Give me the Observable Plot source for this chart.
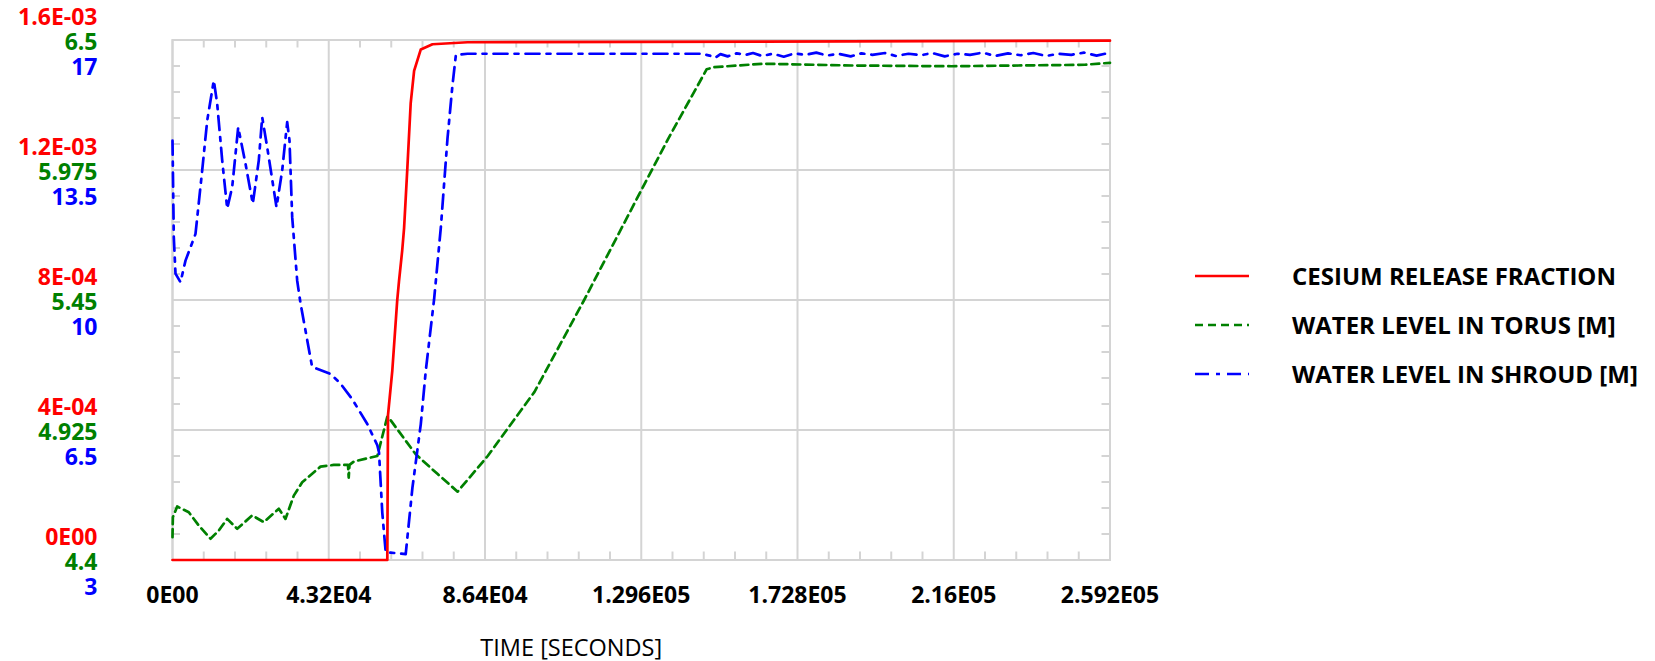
<!DOCTYPE html>
<html><head><meta charset="utf-8">
<script src="https://cdn.jsdelivr.net/npm/d3@7"></script>
<script src="https://cdn.jsdelivr.net/npm/@observablehq/plot@0.6"></script>
<style>
body{margin:0;background:#fff;font-family:"Open Sans",sans-serif;}
#wrap{position:relative;width:1655px;height:661px;}
#legend{position:absolute;left:1195px;top:251px;}
.row{display:flex;align-items:center;height:49px;}
.row svg{width:54px;height:6px;margin-right:43px;flex:none;}
.row span{font-weight:700;font-size:24px;color:#000;white-space:nowrap;}
</style></head><body><div id="wrap"><div id="legend"></div></div>
<script>
// Time axis (seconds)
const xTickValues = [0, 43200, 86400, 129600, 172800, 216000, 259200];
const xTickLabels = ["0E00", "4.32E04", "8.64E04", "1.296E05", "1.728E05", "2.16E05", "2.592E05"];
// Left axis tick labels (three stacked scales)
const redTickLabels = ["0E00", "4E-04", "8E-04", "1.2E-03", "1.6E-03"];
const greenTickLabels = ["4.4", "4.925", "5.45", "5.975", "6.5"];
const blueTickLabels = ["3", "6.5", "10", "13.5", "17"];
const redDomain = [0, 1.6e-3];
const greenDomain = [4.4, 6.5];
const blueDomain = [3, 17];

const seriesNames = ["CESIUM RELEASE FRACTION", "WATER LEVEL IN TORUS [M]", "WATER LEVEL IN SHROUD [M]"];

// CESIUM RELEASE FRACTION
const redT = [0, 59389, 59583, 60772, 62124, 62624, 63507, 64034, 64946, 65859, 66799, 68650, 71885, 81562, 259200];
const redV = [0, 0, 4.46e-4, 5.83e-4, 7.98e-4, 8.58e-4, 9.52e-4, 1.022e-3, 1.209e-3, 1.406e-3, 1.505e-3, 1.571e-3, 1.587e-3, 1.593e-3, 1.598e-3];

// WATER LEVEL IN TORUS [M]
const greenT = [0, 100, 1300, 4507, 7271, 10506, 12801, 15124, 17888, 22035, 25243, 29390, 31242, 33537, 35859, 40919, 44596, 48524, 48717, 48937, 50154, 56624, 59389, 60329, 67241, 73241, 78826, 87148, 100086, 113966, 127818, 137080, 147696, 149715, 160082, 163787, 187731, 215378, 233847, 252260, 259200];
const greenV = [4.492, 4.573, 4.616, 4.593, 4.539, 4.486, 4.519, 4.566, 4.526, 4.580, 4.553, 4.607, 4.566, 4.660, 4.714, 4.777, 4.784, 4.784, 4.733, 4.784, 4.798, 4.820, 4.978, 4.964, 4.827, 4.748, 4.676, 4.820, 5.079, 5.454, 5.843, 6.102, 6.382, 6.390, 6.401, 6.404, 6.397, 6.394, 6.397, 6.400, 6.408];

// WATER LEVEL IN SHROUD [M]
const blueT = [0, 359, 829, 2212, 3594, 6359, 8211, 9594, 11418, 12359, 13741, 15124, 16506, 18165, 20183, 22201, 23860, 24800, 26183, 28754, 30330, 31712, 32348, 33095, 34477, 35362, 38597, 43684, 46449, 49684, 53859, 56624, 57094, 58006, 58946, 64476, 66328, 68650, 70033, 72328, 74180, 76032, 77414, 78354, 81562, 146300, 148500, 150000, 151500, 153500, 156000, 158500, 160500, 163000, 166000, 169000, 172000, 175000, 178000, 181000, 184000, 187500, 190500, 193500, 197000, 200000, 203500, 207000, 210000, 213500, 217000, 220500, 224000, 227500, 231000, 234500, 238000, 241500, 245000, 248500, 252000, 255500, 259200];
const blueV = [14.29, 11.69, 10.71, 10.48, 11.06, 11.78, 13.49, 14.83, 15.91, 15.28, 13.76, 12.46, 13.04, 14.65, 13.67, 12.59, 13.76, 14.92, 14.11, 12.50, 13.49, 14.79, 14.29, 12.23, 10.52, 9.93, 8.20, 8.01, 7.75, 7.33, 6.66, 6.09, 5.90, 4.27, 3.21, 3.16, 4.94, 6.66, 8.10, 10.02, 11.94, 14.35, 15.79, 16.60, 16.63, 16.63, 16.58, 16.52, 16.62, 16.56, 16.64, 16.60, 16.65, 16.57, 16.63, 16.55, 16.64, 16.60, 16.66, 16.58, 16.63, 16.56, 16.64, 16.60, 16.65, 16.57, 16.63, 16.59, 16.65, 16.56, 16.63, 16.60, 16.66, 16.57, 16.64, 16.59, 16.65, 16.57, 16.63, 16.60, 16.66, 16.58, 16.66];

const colors = ["#ff0000", "#008000", "#0000ff"];
const dashes = [null, "8,5", "14,7,4,7"];
const gridColor = "#d4d4d4";
const fontFamily = "'Open Sans', sans-serif";
const lineW = 2.7;

// map secondary scales into the primary (red) y domain
const gToY = d3.scaleLinear(greenDomain, redDomain);
const bToY = d3.scaleLinear(blueDomain, redDomain);
const yMajor = d3.range(5).map(i => redDomain[0] + i * (redDomain[1] - redDomain[0]) / 4);
const yMinor = d3.range(1, 20).filter(i => i % 5).map(i => i * (redDomain[1] - redDomain[0]) / 20);
const xMinor = d3.range(0, 259201, 8640).filter(d => d % 43200 !== 0);

const redData = redT.map((t, i) => ({t, v: redV[i]}));
const greenData = greenT.map((t, i) => ({t, v: gToY(greenV[i])}));
const blueData = blueT.map((t, i) => ({t, v: bToY(blueV[i])}));

const mL = 172, mR = 545.5, mT = 39.5, mB = 101.5, W = 1655, H = 661;
const innerW = W - mL - mR, innerH = H - mT - mB;
const tickLen = 8;

const lbl = (arr) => (d) => arr[yMajor.findIndex(v => Math.abs(v - d) < 1e-12)];
const axisFont = {fontWeight: "bold", fontSize: 23, fontFamily};

const chart = Plot.plot({
  width: W, height: H,
  marginLeft: mL, marginRight: mR, marginTop: mT, marginBottom: mB,
  x: {domain: [0, 259200], label: null},
  y: {domain: redDomain, label: null},
  style: {fontFamily, background: "white", overflow: "visible"},
  marks: [
    Plot.gridX(xTickValues, {stroke: gridColor, strokeOpacity: 1, strokeWidth: 2}),
    Plot.gridY(yMajor, {stroke: gridColor, strokeOpacity: 1, strokeWidth: 2}),
    Plot.tickX(xMinor, {x: d => d, insetTop: innerH - tickLen, stroke: gridColor, strokeWidth: 2}),
    Plot.tickX(xMinor, {x: d => d, insetBottom: innerH - tickLen, stroke: gridColor, strokeWidth: 2}),
    Plot.tickY(yMinor, {y: d => d, insetRight: innerW - tickLen, stroke: gridColor, strokeWidth: 2}),
    Plot.tickY(yMinor, {y: d => d, insetLeft: innerW - tickLen, stroke: gridColor, strokeWidth: 2}),
    Plot.frame({stroke: gridColor, strokeWidth: 2}),
    Plot.line(greenData, {x: "t", y: "v", stroke: colors[1], strokeWidth: lineW, strokeDasharray: dashes[1]}),
    Plot.line(blueData, {x: "t", y: "v", stroke: colors[2], strokeWidth: lineW, strokeDasharray: dashes[2]}),
    Plot.line(redData, {x: "t", y: "v", stroke: colors[0], strokeWidth: lineW}),
    Plot.axisX(xTickValues, {tickSize: 0, tickPadding: 27, tickFormat: d => xTickLabels[xTickValues.indexOf(d)], fill: "black", ...axisFont}),
    Plot.axisY(yMajor, {tickSize: 0, tickPadding: 75, tickFormat: lbl(redTickLabels), fill: colors[0], dy: -22, ...axisFont}),
    Plot.axisY(yMajor, {tickSize: 0, tickPadding: 75, tickFormat: lbl(greenTickLabels), fill: colors[1], dy: 3, ...axisFont}),
    Plot.axisY(yMajor, {tickSize: 0, tickPadding: 75, tickFormat: lbl(blueTickLabels), fill: colors[2], dy: 28, ...axisFont}),
    Plot.text(["TIME [SECONDS]"], {frameAnchor: "bottom", dx: -70, dy: 88, lineAnchor: "middle", fontSize: 23.5, fill: "black", fontFamily})
  ]
});
document.getElementById("wrap").prepend(chart);

// legend
const legend = document.getElementById("legend");
seriesNames.forEach((name, i) => {
  const row = document.createElement("div");
  row.className = "row";
  row.innerHTML = `<svg viewBox="0 0 54 6"><line x1="0" x2="54" y1="3" y2="3" stroke="${colors[i]}" stroke-width="2.7" ${dashes[i] ? `stroke-dasharray="${dashes[i]}"` : ""}/></svg><span>${name}</span>`;
  legend.appendChild(row);
});
</script>
</body></html>
